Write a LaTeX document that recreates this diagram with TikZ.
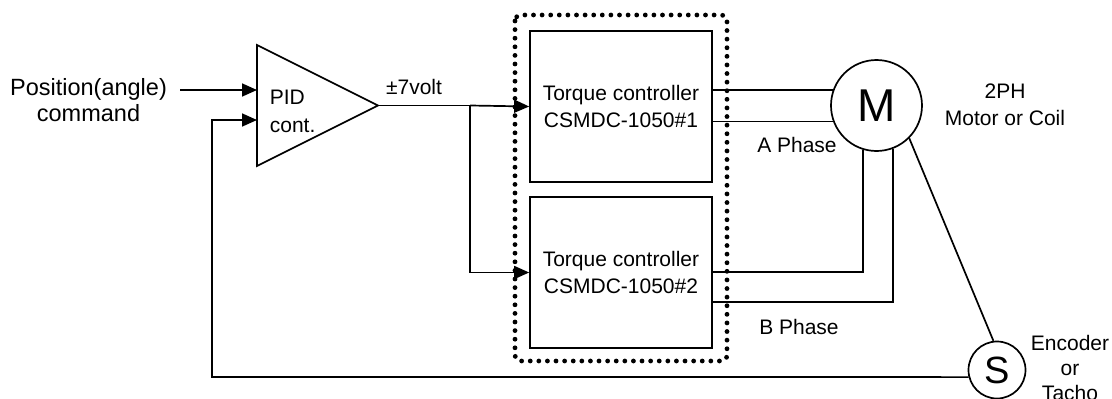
\documentclass[tikz,border=0pt]{standalone}
\usepackage{fontspec}
\setmainfont{Liberation Sans}
\usetikzlibrary{arrows.meta,calc}
\begin{document}
\begin{tikzpicture}[x=1pt,y=-1pt,
  every path/.style={line width=1.7pt},
  lbl/.style={font=\fontsize{21}{27}\selectfont, align=center, inner sep=0pt},
  arr/.style={-{Triangle[length=15pt,width=13pt]}},
  box/.style={draw, line width=1.7pt, minimum width=182pt, minimum height=151pt, inner sep=0pt, font=\fontsize{21}{27}\selectfont, align=center},
  dotted box/.style={line width=4.8pt, line cap=round, dash pattern=on 0pt off 8.6pt, rounded corners=6pt}
]
\useasboundingbox (0,0) rectangle (1112,399);

% dotted enclosure
\draw[dotted box] (515,15) rectangle (727,361);

% PID triangle
\coordinate (ptop) at (257,45);
\coordinate (pbot) at (257,166);
\coordinate (pout) at (378,105.5);
\coordinate (pin1) at (257,90);
\coordinate (pin2) at (257,120);
\draw (ptop) -- (pout) -- (pbot) -- cycle;
\node[lbl, anchor=west, align=left, font=\fontsize{21}{28}\selectfont] (pid) at (269,111) {PID\\cont.};

% input
\node[lbl, font=\fontsize{23.5}{26}\selectfont] (cmd) at (88.5,100) {Position(angle)\\command};
\coordinate (in1) at (180,90);
\draw[arr] (in1) -- (pin1);

% torque controllers
\node[box] (t1) at (621,106.5) {Torque controller\\CSMDC-1050\#1};
\node[box] (t2) at (621,272.5) {Torque controller\\CSMDC-1050\#2};

% output / branch
\coordinate (br) at (470,105.5);
\node[lbl] (volt) at (414,87) {±7volt};
\draw (pout) -- (br);
\draw[arr] (br) -- (t1.west);
\draw[arr] (br) |- (t2.west);

% motor
\node[circle, draw, line width=1.7pt, minimum size=91pt, inner sep=0pt, font=\fontsize{46}{46}\selectfont] (M) at (876.5,105.5) {M};
\node[lbl] (mlbl) at (1005,104.5) {2PH\\Motor or Coil};

% phase A
\draw (M.160 -| t1.east) -- (M.160);
\draw (M.200 -| t1.east) -- (M.200);
\node[lbl] (pa) at (797,145) {A Phase};

% phase B
\coordinate (b1) at (712,272);
\coordinate (b2) at (712,302);
\draw (b1) -- (M.253 |- b1) -- (M.253);
\draw (b2) -- (M.291 |- b2) -- (M.291);
\node[lbl] (pb) at (799,327) {B Phase};

% sensor
\node[circle, draw, line width=1.7pt, minimum size=57pt, inner sep=0pt, font=\fontsize{38}{38}\selectfont] (S) at (997,370) {S};
\node[lbl, font=\fontsize{21}{25}\selectfont] (slbl) at (1070,368) {Encoder\\or\\Tacho};
\draw (M.-45) -- (S.97);

% feedback
\coordinate (fb) at (212,377);
\draw[arr] (S.194) -- (fb) -- (212,120) -- (pin2);
\end{tikzpicture}
\end{document}
